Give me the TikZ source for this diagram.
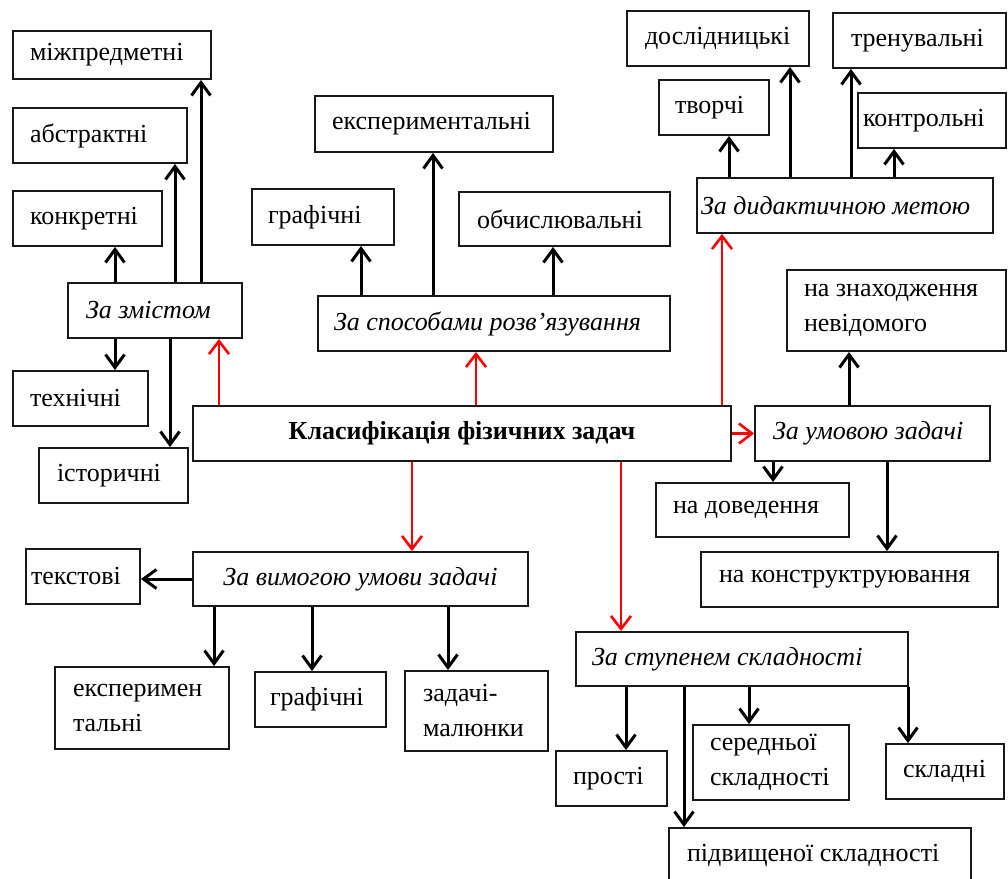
\documentclass[tikz,border=0pt]{standalone}
\usepackage{fontspec}
\setmainfont{Liberation Serif}
\usetikzlibrary{arrows.meta}
\tikzset{
  box/.style={draw=black!90, line width=1.9pt, font=\fontsize{26}{35}\selectfont, inner ysep=0pt, align=flush left},
  arr/.style={line width=3pt, -{Straight Barb[length=13pt,width=19pt]}},
  rarr/.style={draw=red, line width=2.6pt, -{Straight Barb[length=13pt,width=20pt]}},
}
% #1 name, #2 x1, #3 y1, #4 x2, #5 y2, #6 left pad, #7 extra options, #8 text
\newcommand\mkbox[8]{%
  \pgfmathsetmacro\bxw{#4-#2}%
  \pgfmathsetmacro\bxh{#5-#3}%
  \pgfmathsetmacro\bxt{#4-#2-2*#6}%
  \node[box,minimum width=\bxw pt,minimum height=\bxh pt,text width=\bxt pt,inner xsep=#6 pt,#7] (#1) at ({(#2+#4)/2},{(#3+#5)/2}) {#8};}
\begin{document}
\begin{tikzpicture}[x=1pt,y=-1pt]
\useasboundingbox (0,0) rectangle (1008,878);
\clip (0,0) rectangle (1008,878);
% central
\mkbox{klas}{193}{406}{731}{461}{8}{align=flush center}{\textbf{Класифікація фізичних задач}}
% За змістом group
\mkbox{mizh}{13}{31}{211}{79}{17}{}{міжпредметні}
\mkbox{abstr}{13}{108}{187}{163}{17}{}{абстрактні}
\mkbox{konkr}{13}{191}{162}{246}{17}{}{конкретні}
\mkbox{zmist}{68}{283}{242}{338}{18}{}{\textit{За змістом}}
\mkbox{tekhn}{13}{371}{148}{426}{17}{}{технічні}
\mkbox{istor}{39}{448}{188}{503}{18}{}{історичні}
% За способами розв'язування group
\mkbox{eksp}{315}{96}{553}{152}{17}{}{експериментальні}
\mkbox{grafa}{252}{189}{394}{245}{16}{}{графічні}
\mkbox{obch}{459}{192}{670}{246}{18}{}{обчислювальні}
\mkbox{sposob}{318}{296}{670}{351}{16}{}{\textit{За способами розв’язування}}
% За дидактичною метою group
\mkbox{dosl}{627}{11}{809}{66}{18}{}{дослідницькі}
\mkbox{tren}{833}{13}{1006}{68}{18}{}{тренувальні}
\mkbox{tvor}{659}{80}{769}{135}{16}{}{творчі}
\mkbox{kontr}{858}{93}{1006}{148}{5}{}{контрольні}
\mkbox{dydakt}{697}{178}{993}{233}{4}{}{\textit{За дидактичною метою}}
% За умовою задачі group
\mkbox{znakh}{787}{270}{1006}{351}{17}{}{на знаходження\\невідомого}
\mkbox{umov}{755}{406}{990}{461}{18}{}{\textit{За умовою задачі}}
\mkbox{dovod}{656}{483}{849}{537}{17}{}{на доведення}
\mkbox{konstr}{701}{552}{998}{607}{18}{}{на конструктруювання}
% За вимогою умови задачі group
\mkbox{tekst}{26}{549}{140}{604}{5}{}{текстові}
\mkbox{vymog}{193}{552}{528}{606}{8}{align=flush center}{\textit{За вимогою умови задачі}}
\mkbox{ekspb}{55}{667}{229}{749}{18}{}{експеримен\\тальні}
\mkbox{grafb}{255}{672}{386}{727}{15}{}{графічні}
\mkbox{malun}{405}{671}{548}{751}{18}{}{задачі-\\малюнки}
% За ступенем складності group
\mkbox{stup}{576}{632}{908}{686}{16}{}{\textit{За ступенем складності}}
\mkbox{prost}{556}{751}{667}{806}{17}{}{прості}
\mkbox{sered}{693}{725}{849}{800}{17}{}{середньої\\складності}
\mkbox{skladn}{886}{744}{1004}{799}{17}{}{складні}
\mkbox{pidv}{669}{828}{971}{884}{18}{}{підвищеної складності}
% x references for vertical connectors
\path (115,0) coordinate (xa) (175,0) coordinate (xb) (201,0) coordinate (xc)
      (170,0) coordinate (xd) (219,0) coordinate (xe)
      (361,0) coordinate (xf) (433,0) coordinate (xg) (553,0) coordinate (xh) (476,0) coordinate (xi)
      (729,0) coordinate (xj) (790,0) coordinate (xk) (851,0) coordinate (xl) (894,0) coordinate (xm) (722,0) coordinate (xn)
      (849,0) coordinate (xo) (773,0) coordinate (xp) (887,0) coordinate (xq)
      (214,0) coordinate (xr) (312,0) coordinate (xs) (448,0) coordinate (xt) (412,0) coordinate (xu)
      (626,0) coordinate (xv) (684,0) coordinate (xw) (749,0) coordinate (xx) (908,0) coordinate (xy) (621,0) coordinate (xz);
% black connectors
\draw[arr] (xa |- zmist.north) -- (xa |- konkr.south);
\draw[arr] (xb |- zmist.north) -- (xb |- abstr.south);
\draw[arr] (xc |- zmist.north) -- (xc |- mizh.south);
\draw[arr] (xa |- zmist.south) -- (xa |- tekhn.north);
\draw[arr] (xd |- zmist.south) -- (xd |- istor.north);
\draw[arr] (xf |- sposob.north) -- (xf |- grafa.south);
\draw[arr] (xg |- sposob.north) -- (xg |- eksp.south);
\draw[arr] (xh |- sposob.north) -- (xh |- obch.south);
\draw[arr] (xj |- dydakt.north) -- (xj |- tvor.south);
\draw[arr] (xk |- dydakt.north) -- (xk |- dosl.south);
\draw[arr] (xl |- dydakt.north) -- (xl |- tren.south);
\draw[arr] (xm |- dydakt.north) -- (xm |- kontr.south);
\draw[arr] (xo |- umov.north) -- (xo |- znakh.south);
\draw[arr] (xp |- umov.south) -- (xp |- dovod.north);
\draw[arr] (xq |- umov.south) -- (xq |- konstr.north);
\draw[arr] (vymog.west) -- (vymog.west -| tekst.east);
\draw[arr] (xr |- vymog.south) -- (xr |- ekspb.north);
\draw[arr] (xs |- vymog.south) -- (xs |- grafb.north);
\draw[arr] (xt |- vymog.south) -- (xt |- malun.north);
\draw[arr] (xv |- stup.south) -- (xv |- prost.north);
\draw[arr] (xw |- stup.south) -- (xw |- pidv.north);
\draw[arr] (xx |- stup.south) -- (xx |- sered.north);
\draw[arr] (xy |- stup.south) -- (xy |- skladn.north);
% red connectors
\draw[rarr] (xe |- klas.north) -- (xe |- zmist.south);
\draw[rarr] (xi |- klas.north) -- (xi |- sposob.south);
\draw[rarr] (xn |- klas.north) -- (xn |- dydakt.south);
\draw[rarr] (klas.east) -- (umov.west);
\draw[rarr] (xu |- klas.south) -- (xu |- vymog.north);
\draw[rarr] (xz |- klas.south) -- (xz |- stup.north);
\end{tikzpicture}
\end{document}
